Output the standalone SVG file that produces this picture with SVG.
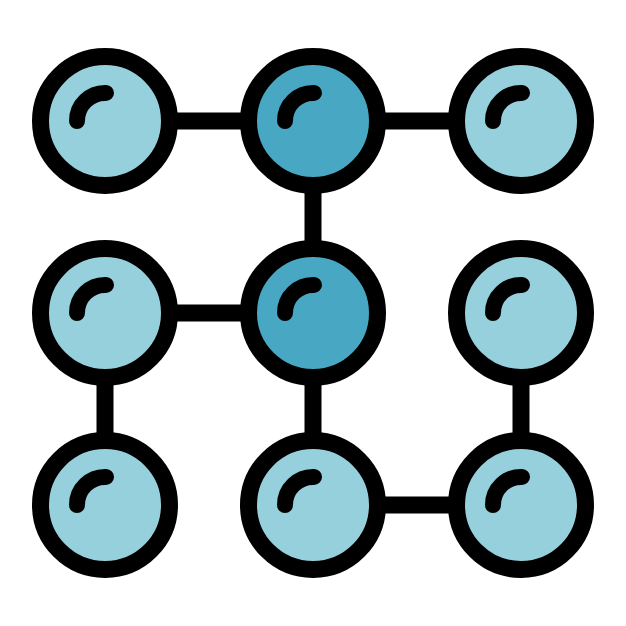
<svg xmlns="http://www.w3.org/2000/svg" width="626" height="626" viewBox="0 0 626 626">
<defs>
<style>
.c{stroke:#000;stroke-width:17}
.l{fill:#96d0dc}
.d{fill:#48a8c4}
.h{fill:none;stroke:#000;stroke-width:16;stroke-linecap:round}
.k{stroke:#000;stroke-width:17}
</style>
<g id="node-shape">
<circle r="64.5" cx="0" cy="0"/>
</g>
</defs>
<rect width="626" height="626" fill="#fff"/>
<g id="connectors" class="k">
<line x1="105" y1="121" x2="313" y2="121"/>
<line x1="313" y1="121" x2="521" y2="121"/>
<line x1="313" y1="121" x2="313" y2="313"/>
<line x1="105" y1="313" x2="313" y2="313"/>
<line x1="105" y1="313" x2="105" y2="505"/>
<line x1="313" y1="313" x2="313" y2="505"/>
<line x1="313" y1="505" x2="521" y2="505"/>
<line x1="521" y1="313" x2="521" y2="505"/>
</g>
<g id="n00" transform="translate(105,121)"><circle r="64.5" class="c l"/><path class="h" d="M-28,0 A28,28 0 0 1 1,-28"/></g>
<g id="n10" transform="translate(313,121)"><circle r="64.5" class="c d"/><path class="h" d="M-28,0 A28,28 0 0 1 1,-28"/></g>
<g id="n20" transform="translate(521,121)"><circle r="64.5" class="c l"/><path class="h" d="M-28,0 A28,28 0 0 1 1,-28"/></g>
<g id="n01" transform="translate(105,313)"><circle r="64.5" class="c l"/><path class="h" d="M-28,0 A28,28 0 0 1 1,-28"/></g>
<g id="n11" transform="translate(313,313)"><circle r="64.5" class="c d"/><path class="h" d="M-28,0 A28,28 0 0 1 1,-28"/></g>
<g id="n21" transform="translate(521,313)"><circle r="64.5" class="c l"/><path class="h" d="M-28,0 A28,28 0 0 1 1,-28"/></g>
<g id="n02" transform="translate(105,505)"><circle r="64.5" class="c l"/><path class="h" d="M-28,0 A28,28 0 0 1 1,-28"/></g>
<g id="n12" transform="translate(313,505)"><circle r="64.5" class="c l"/><path class="h" d="M-28,0 A28,28 0 0 1 1,-28"/></g>
<g id="n22" transform="translate(521,505)"><circle r="64.5" class="c l"/><path class="h" d="M-28,0 A28,28 0 0 1 1,-28"/></g>
</svg>
